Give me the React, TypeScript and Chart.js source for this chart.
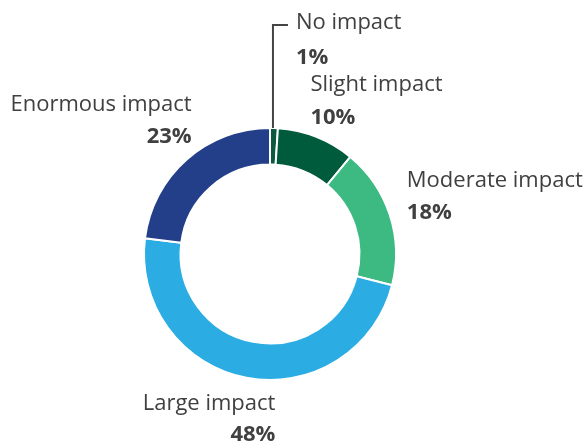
import React, { useEffect, useRef } from "react";
import { Chart, registerables } from "chart.js";

Chart.register(...registerables);

const categories = ["No impact", "Slight impact", "Moderate impact", "Large impact", "Enormous impact"];
const values = [1, 10, 18, 48, 23];
const percentLabels = ["1%", "10%", "18%", "48%", "23%"];
const colors = ["#0b5a40", "#005a3c", "#3db982", "#2bade4", "#243f8a"];

// label placement relative to each slice's outer mid-point (styling only)
const labelOffsets = [
  { dx: 22, nameDy: -105, pctDy: -70, align: "left" as CanvasTextAlign, leader: true },
  { dx: -6, nameDy: -52, pctDy: -19, align: "left" as CanvasTextAlign, leader: false },
  { dx: 17, nameDy: -34, pctDy: -2, align: "left" as CanvasTextAlign, leader: false },
  { dx: 29, nameDy: 26, pctDy: 57, align: "right" as CanvasTextAlign, leader: false },
  { dx: 5, nameDy: -55, pctDy: -23, align: "right" as CanvasTextAlign, leader: false },
];

const FONT = '"Open Sans", "Noto Sans", sans-serif';
const TEXT_COLOR = "#404040";

const labelPlugin = {
  id: "sliceLabels",
  afterDraw(chart: any) {
    const ctx = chart.ctx as CanvasRenderingContext2D;
    const meta = chart.getDatasetMeta(0);
    meta.data.forEach((arc: any, i: number) => {
      const p = arc.getProps(["x", "y", "startAngle", "endAngle", "outerRadius"], true);
      const mid = (p.startAngle + p.endAngle) / 2;
      const ax = p.x + Math.cos(mid) * p.outerRadius;
      const ay = p.y + Math.sin(mid) * p.outerRadius;
      const o = labelOffsets[i];
      ctx.save();
      if (o.leader) {
        ctx.strokeStyle = "#444444";
        ctx.lineWidth = 2;
        ctx.beginPath();
        ctx.moveTo(ax - 1, ay);
        ctx.lineTo(ax - 1, ay - 103);
        ctx.lineTo(ax + 14, ay - 103);
        ctx.stroke();
      }
      ctx.fillStyle = TEXT_COLOR;
      ctx.textAlign = o.align;
      ctx.textBaseline = "middle";
      ctx.font = `400 22px ${FONT}`;
      ctx.fillText(categories[i], ax + o.dx, ay + o.nameDy);
      ctx.font = `700 22px ${FONT}`;
      ctx.fillText(percentLabels[i], ax + o.dx, ay + o.pctDy);
      ctx.restore();
    });
  },
};

export default function App() {
  const ref = useRef<HTMLCanvasElement | null>(null);
  useEffect(() => {
    if (!ref.current) return;
    const chart = new Chart(ref.current, {
      type: "doughnut",
      data: {
        labels: categories,
        datasets: [
          {
            data: values,
            backgroundColor: colors,
            borderColor: "#ffffff",
            borderWidth: 2,
          },
        ],
      },
      options: {
        animation: false,
        responsive: false,
        maintainAspectRatio: false,
        cutout: "71%",
        layout: { padding: { left: 143, right: 191, top: 127, bottom: 64 } },
        plugins: { legend: { display: false }, tooltip: { enabled: false } },
      },
      plugins: [labelPlugin],
    });
    return () => chart.destroy();
  }, []);
  return (
    <div style={{ position: "absolute", left: 0, top: 0, width: 588, height: 445, background: "#fff" }}>
      <canvas ref={ref} width={588} height={445} style={{ width: 588, height: 445 }} />
    </div>
  );
}
